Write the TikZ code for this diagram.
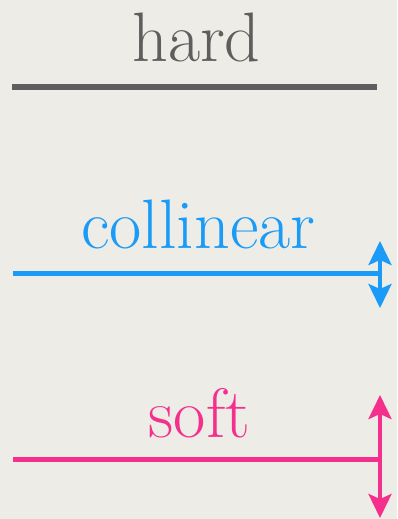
\documentclass[tikz,border=0pt]{standalone}
\usetikzlibrary{arrows.meta}
\definecolor{paper}{HTML}{EDECE6}
\definecolor{hardgray}{HTML}{5E5E5E}
\definecolor{colblue}{HTML}{1A9BF7}
\definecolor{softpink}{HTML}{F5308C}
\tikzset{
  label text/.style={anchor=base, inner sep=0pt, font=\fontsize{70}{70}\selectfont},
  levelline/.style={line width=5pt},
  updown/.style={line width=4pt, {Stealth[length=24pt,width=23pt,inset=5pt]}-{Stealth[length=24pt,width=23pt,inset=5pt]}}
}
\begin{document}
\begin{tikzpicture}[x=1pt,y=-1pt]
\fill[paper] (0,0) rectangle (397,519);
\useasboundingbox (0,0) rectangle (397,519);
% hard
\node[label text, text=hardgray] (hard) at (196.5,62) {hard};
\coordinate (hardL) at (12,87);
\coordinate (hardR) at (377,87);
\draw[levelline, hardgray, line width=6pt] (hardL) -- (hardR);
% collinear
\node[label text, text=colblue] (coll) at (198.5,248) {collinear};
\coordinate (collL) at (13,273);
\coordinate (collR) at (380,273);
\coordinate (collTop) at (380,241);
\coordinate (collBot) at (380,308);
\draw[levelline, colblue] (collL) -- (collR);
\draw[updown, colblue] (collTop) -- (collBot);
% soft
\node[label text, text=softpink] (soft) at (199.5,437) {soft};
\coordinate (softL) at (13,459.5);
\coordinate (softR) at (380,459.5);
\coordinate (softTop) at (380,395);
\coordinate (softBot) at (380,518);
\draw[levelline, softpink] (softL) -- (softR);
\draw[updown, softpink] (softTop) -- (softBot);
\end{tikzpicture}
\end{document}
